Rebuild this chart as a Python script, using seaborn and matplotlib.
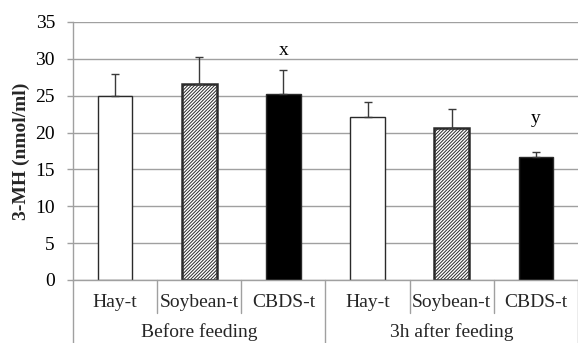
import numpy as np
import pandas as pd
import matplotlib
matplotlib.use("Agg")
import matplotlib.pyplot as plt
import seaborn as sns

# Plasma 3-methylhistidine by diet, before and 3 h after feeding
groups = ["Before feeding", "3h after feeding"]
diets = ["Hay-t", "Soybean-t", "CBDS-t"]
before_mean = [24.9, 26.6, 25.3]
before_sd = [3.0, 3.7, 3.2]
after_mean = [22.1, 20.6, 16.7]
after_sd = [2.0, 2.6, 0.7]
letters = {("Before feeding", "CBDS-t"): "x", ("3h after feeding", "CBDS-t"): "y"}

rows = []
for g, means, sds in [(groups[0], before_mean, before_sd), (groups[1], after_mean, after_sd)]:
    for d, m, s in zip(diets, means, sds):
        rows.append({"group": g, "diet": d, "slot": f"{g} | {d}", "value": m, "sd": s})
df = pd.DataFrame(rows)

sns.set_theme(style="white")
plt.rcParams["font.family"] = ["Liberation Serif", "DejaVu Serif"]
plt.rcParams["hatch.linewidth"] = 0.7
plt.rcParams["hatch.color"] = "#303030"

fig = plt.figure(figsize=(5.78, 3.43), dpi=100)
ax = fig.add_axes([73 / 578, 1 - 280 / 343, 1 - 73 / 578, 258 / 343])

grid_c = "#a0a0a0"
ax.set_axisbelow(True)
ax.yaxis.grid(True, color=grid_c, linewidth=1.0)

sns.barplot(data=df, x="slot", y="value", order=list(df["slot"]), width=0.41,
            color="white", errorbar=None, ax=ax)

face = {"Hay-t": "white", "Soybean-t": "white", "CBDS-t": "black"}
hatch = {"Hay-t": "", "Soybean-t": "//////////", "CBDS-t": ""}
lw = {"Hay-t": 1.0, "Soybean-t": 1.8, "CBDS-t": 1.0}
for patch, d in zip(ax.patches, df["diet"]):
    patch.set_facecolor(face[d])
    patch.set_hatch(hatch[d])
    patch.set_edgecolor("#2a2a2a")
    patch.set_linewidth(lw[d])

xs = np.arange(len(df))
ax.errorbar(xs, df["value"], yerr=[np.zeros(len(df)), df["sd"]], fmt="none",
            ecolor="#3a3a3a", elinewidth=1.0, capsize=3.2, capthick=1.0)

# significance letters above the CBDS-t bars
letter_gap = {"x": 2.0, "y": 3.9}
for i, r in df.iterrows():
    key = (r["group"], r["diet"])
    if key in letters:
        L = letters[key]
        ax.text(i, r["value"] + r["sd"] + letter_gap[L], L, ha="center", va="baseline",
                fontsize=14, color="black")

ax.set_ylim(0, 35)
ax.set_xlim(-0.5, len(df) - 0.5)
ax.set_yticks(range(0, 36, 5))
ax.tick_params(axis="y", length=4.5, width=1.0, color=grid_c, pad=8.5, labelsize=14,
               labelcolor="black", left=True)
ax.set_xticks([])
ax.set_xlabel("")
ax.set_ylabel("3-MH (nmol/ml)", fontsize=14, fontweight="bold", labelpad=4)

for s in ["top", "right"]:
    ax.spines[s].set_visible(False)
ax.spines["left"].set_color(grid_c)
ax.spines["bottom"].set_color(grid_c)
ax.spines["left"].set_linewidth(1.0)
ax.spines["bottom"].set_linewidth(1.0)

# two-level category axis
tr = ax.get_xaxis_transform()
for i, d in enumerate(df["diet"]):
    ax.text(i, -0.088, d, transform=tr, ha="center", va="center", fontsize=14, clip_on=False)
for k, g in enumerate(groups):
    ax.text(k * 3 + 1, -0.238, g, transform=tr, ha="center", va="bottom", fontsize=14, clip_on=False)
for b in [0.5, 1.5, 3.5, 4.5]:
    ax.plot([b, b], [0, -0.128], transform=tr, color=grid_c, lw=1.0, clip_on=False)
for b in [-0.5, 2.5, 5.5]:
    ax.plot([b, b], [0, -0.3], transform=tr, color=grid_c, lw=1.0, clip_on=False)

fig.savefig("out.png", dpi=100)
